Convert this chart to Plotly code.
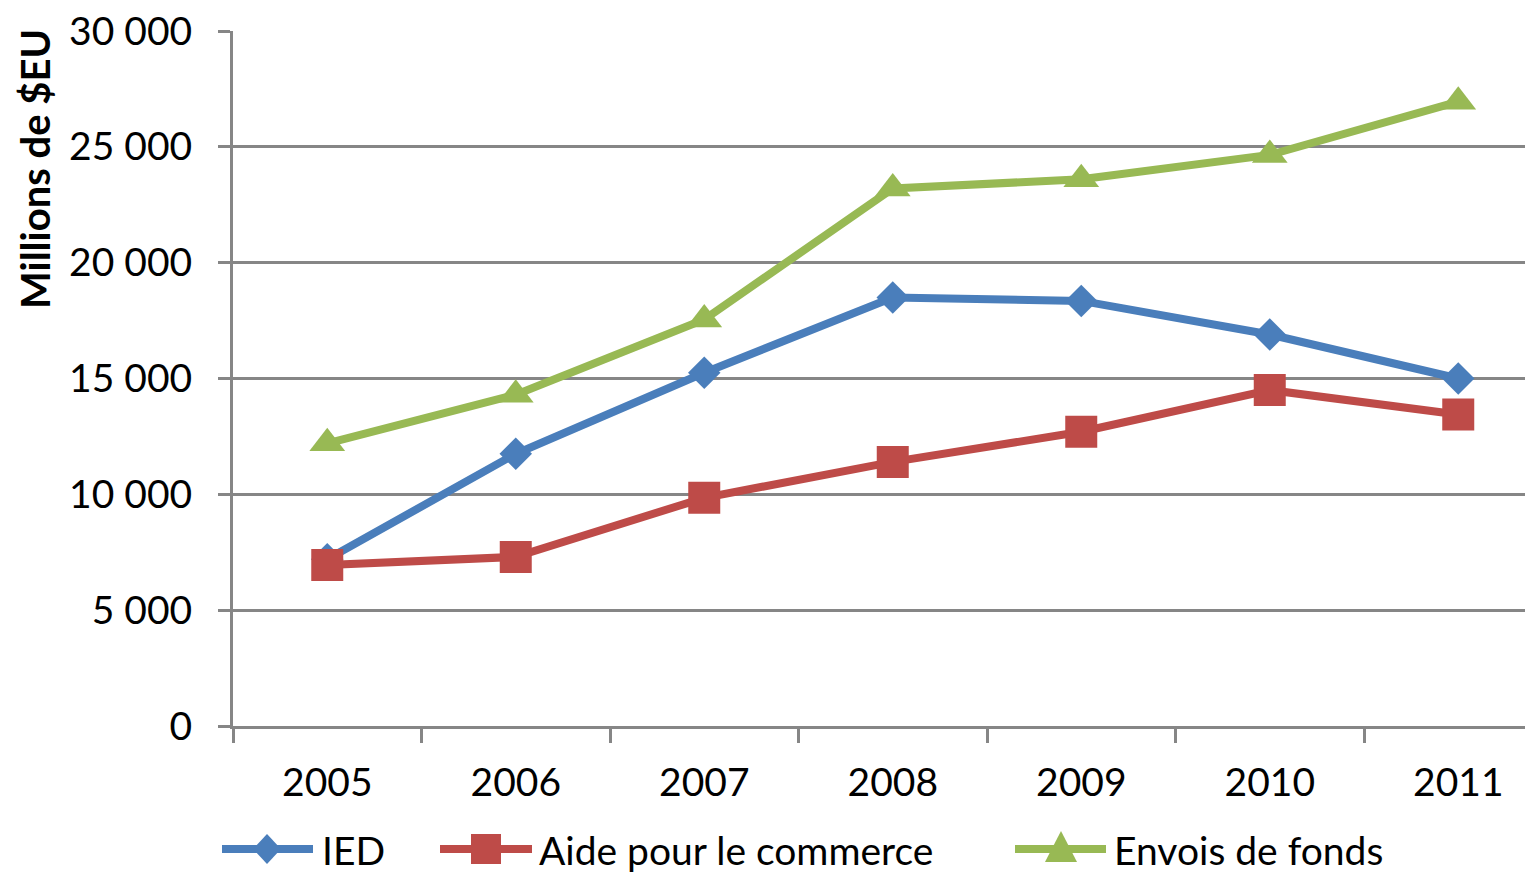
import plotly.graph_objects as go

years = ["2005", "2006", "2007", "2008", "2009", "2010", "2011"]
ied = [7200, 11750, 15250, 18500, 18350, 16900, 15000]
aide = [6950, 7300, 9850, 11400, 12700, 14500, 13450]
envois = [12200, 14300, 17550, 23200, 23600, 24650, 26950]

names = ["IED", "Aide pour le commerce", "Envois de fonds"]
colors = ["#4A7EBB", "#BE4B48", "#98B954"]
symbols = ["diamond", "square", "triangle-up"]
sizes = [25, 32, 31]

FONT = "Lato"

# figure geometry (page is drawn with an 8px body offset)
W, H = 1517, 866
ML, MT, MR, MB = 225, 23, 0, 148
OFF = 8
PW = W - ML - MR
PH = H - MT - MB


def px(sx):
    return (sx - OFF - ML) / PW


def py(sy):
    return (H - MB - (sy - OFF)) / PH


fig = go.Figure()
for name, vals, col, sym, sz in zip(names, [ied, aide, envois], colors, symbols, sizes):
    fig.add_trace(go.Scatter(
        x=years, y=vals, name=name, mode="lines+markers",
        line=dict(color=col, width=8),
        marker=dict(symbol=sym, size=sz, color=col, line=dict(width=0)),
        cliponaxis=False, showlegend=False,
    ))

# custom legend (line sample + marker + label)
leg_y = 849
leg_items = [
    (222, 313, 267, 320),
    (440, 532, 486, 537),
    (1015, 1106, 1061, 1112),
]
shapes = []
annotations = []
for (x0, x1, xc, xt), name, col, sym in zip(leg_items, names, colors, symbols):
    shapes.append(dict(type="line", xref="paper", yref="paper",
                       x0=px(x0), x1=px(x1), y0=py(leg_y), y1=py(leg_y),
                       line=dict(color=col, width=8)))
    if sym == "diamond":
        pts = [(xc, leg_y - 15), (xc + 14, leg_y), (xc, leg_y + 15), (xc - 14, leg_y)]
    elif sym == "square":
        pts = [(xc - 15, leg_y - 15), (xc + 15, leg_y - 15), (xc + 15, leg_y + 15), (xc - 15, leg_y + 15)]
    else:
        pts = [(xc, leg_y - 18), (xc + 16, leg_y + 13), (xc - 16, leg_y + 13)]
    path = "M " + " L ".join(f"{px(a):.5f},{py(b):.5f}" for a, b in pts) + " Z"
    shapes.append(dict(type="path", xref="paper", yref="paper", path=path,
                       fillcolor=col, line=dict(width=0)))
    annotations.append(dict(text=name, xref="paper", yref="paper",
                            x=px(xt), y=py(leg_y + 1), xanchor="left", yanchor="middle",
                            showarrow=False,
                            font=dict(family=FONT, size=39, color="black")))

annotations.append(dict(text="<b>Millions de $EU</b>", xref="paper", yref="paper",
                        x=px(35), y=py(169), xanchor="center", yanchor="middle",
                        textangle=-90, showarrow=False,
                        font=dict(family=FONT, size=40, color="black")))

fig.update_layout(
    width=W, height=H,
    margin=dict(l=ML, r=MR, t=MT, b=MB),
    paper_bgcolor="white", plot_bgcolor="white",
    separators=", ",
    font=dict(family=FONT, size=38, color="black"),
    showlegend=False,
    shapes=shapes,
    annotations=annotations,
)

fig.update_xaxes(
    type="category", range=[-0.5, -0.5 + PW / 188.5],
    showline=True, linecolor="#868686", linewidth=3,
    ticks="outside", ticklen=14, tickwidth=3, tickcolor="#868686",
    tickson="boundaries", showgrid=False,
    tickfont=dict(family=FONT, size=39, color="black"),
    ticklabelstandoff=20, ticklabeloverflow="allow",
)
fig.update_yaxes(
    range=[0, 30000], dtick=5000, tickformat=",",
    showline=True, linecolor="#868686", linewidth=3,
    ticks="outside", ticklen=12, tickwidth=3, tickcolor="#868686",
    showgrid=True, gridcolor="#868686", gridwidth=3,
    zeroline=False,
    tickfont=dict(family=FONT, size=39, color="black"),
    ticklabelstandoff=18, ticklabeloverflow="allow",
)

fig.write_html("out.html")
